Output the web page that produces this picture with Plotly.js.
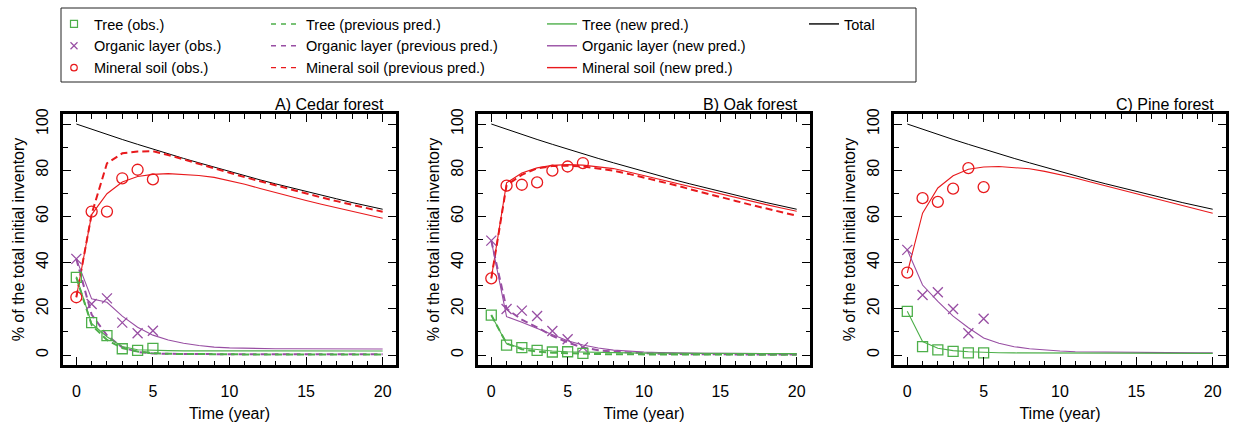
<!DOCTYPE html>
<html>
<head>
<meta charset="utf-8">
<script src="https://cdn.plot.ly/plotly-3.0.1.min.js"></script>
<style>
html, body { margin: 0; padding: 0; background: #ffffff; }
#chart { width: 1233px; height: 424px; }
</style>
</head>
<body>
<div id="chart"></div>
<script>
// ---------- data ----------
const years = [0,1,2,3,4,5,6,7,8,9,10,11,12,13,14,15,16,17,18,19,20];
const obsYearsA = [0,1,2,3,4,5];
const obsYearsB = [0,1,2,3,4,5,6];
const obsYearsC = [0,1,2,3,4,5];

const totalInv = [100,97.7,95.5,93.3,91.2,89.1,87.1,85.1,83.2,81.3,79.4,77.6,75.8,74.1,72.4,70.7,69.1,67.6,66.0,64.5,63.1];

// A) Cedar forest
const treeObsA = [33.6,14.0,8.4,2.7,2.0,2.9];
const orgObsA  = [41.6,22.1,24.5,14.0,9.4,10.5];
const minObsA  = [25.0,62.1,62.1,76.5,80.2,76.0];
const treePrevA = [33.6,13.0,6.5,3.0,1.5,0.8,0.5,0.4,0.3,0.3,0.2,0.2,0.2,0.2,0.2,0.2,0.2,0.2,0.2,0.2,0.2];
const orgPrevA  = [41.6,17.5,8.5,3.3,1.3,0.7,0.5,0.4,0.4,0.3,0.3,0.3,0.3,0.3,0.3,0.3,0.3,0.3,0.3,0.3,0.3];
const minPrevA  = [25.0,61.0,83.0,87.3,88.1,88.2,86.6,84.6,82.7,80.8,78.9,77.0,75.2,73.4,71.6,69.9,68.2,66.6,65.0,63.5,62.0];
const treeNewA = [33.9,13.7,7.9,3.7,2.3,2.0,1.9,1.8,1.8,1.8,1.7,1.7,1.7,1.7,1.7,1.7,1.7,1.7,1.7,1.7,1.7];
const orgNewA  = [41.6,24.3,22.8,16.8,12.0,8.6,6.5,5.1,4.1,3.4,3.1,2.9,2.8,2.7,2.7,2.7,2.7,2.6,2.6,2.6,2.6];
const minNewA  = [25.0,60.8,69.8,74.9,77.3,78.2,78.5,78.2,77.7,76.9,75.5,73.9,72.1,70.3,68.6,66.9,65.3,63.8,62.2,60.7,59.2];

// B) Oak forest
const treeObsB = [17.3,4.3,3.2,2.0,1.3,1.4,0.7];
const orgObsB  = [49.5,19.9,19.2,16.9,10.4,6.8,3.3];
const minObsB  = [33.2,73.3,73.7,74.7,79.8,81.6,83.1];
const treePrevB = [17.3,5.0,2.5,1.5,1.0,0.7,0.5,0.4,0.3,0.3,0.2,0.2,0.2,0.1,0.1,0.1,0.1,0.1,0.1,0.1,0.1];
const orgPrevB  = [49.5,20.0,15.3,12.0,8.3,5.4,3.2,2.1,1.4,1.0,0.7,0.5,0.4,0.3,0.3,0.3,0.2,0.2,0.2,0.2,0.2];
const minPrevB  = [33.2,73.5,78.0,80.8,81.8,82.0,81.6,80.8,79.8,78.4,76.9,75.3,73.6,71.8,70.0,68.3,66.7,65.0,63.4,61.8,60.3];
const treeNewB = [17.3,4.9,3.0,2.2,1.7,1.4,1.2,1.1,1.0,0.9,0.8,0.8,0.7,0.7,0.7,0.6,0.6,0.6,0.6,0.6,0.6];
const orgNewB  = [49.5,16.6,14.2,11.6,8.8,6.2,4.3,3.0,2.1,1.6,1.3,1.1,0.9,0.8,0.7,0.7,0.6,0.6,0.6,0.5,0.5];
const minNewB  = [33.2,74.5,78.8,81.0,82.1,82.4,82.2,81.6,80.7,79.2,77.6,76.1,74.6,73.1,71.5,69.8,68.2,66.7,65.1,63.6,62.2];

// C) Pine forest
const treeObsC = [18.9,3.6,2.2,1.6,0.9,0.9];
const orgObsC  = [45.5,26.0,27.2,19.9,9.4,15.7];
const minObsC  = [35.7,67.9,66.3,72.0,80.9,72.7];
const treeNewC = [18.9,5.8,2.9,1.9,1.4,1.1,1.0,0.9,0.9,0.8,0.8,0.8,0.8,0.8,0.7,0.7,0.7,0.7,0.7,0.7,0.7];
const orgNewC  = [45.5,30.3,23.2,16.8,11.8,7.4,5.1,3.6,2.7,2.1,1.7,1.4,1.3,1.2,1.1,1.0,1.0,1.0,0.9,0.9,0.9];
const minNewC  = [35.5,61.4,72.3,77.6,80.4,81.4,81.6,81.2,80.6,79.5,78.2,76.6,74.9,73.2,71.5,69.8,68.1,66.5,64.8,63.1,61.4];

const panelTitles = ['A) Cedar forest','B) Oak forest','C) Pine forest'];
const legendNames = {
  treeObs: 'Tree (obs.)', orgObs: 'Organic layer (obs.)', minObs: 'Mineral soil (obs.)',
  treePrev: 'Tree (previous pred.)', orgPrev: 'Organic layer (previous pred.)', minPrev: 'Mineral soil (previous pred.)',
  treeNew: 'Tree (new pred.)', orgNew: 'Organic layer (new pred.)', minNew: 'Mineral soil (new pred.)',
  total: 'Total'
};

// ---------- styles ----------
const GREEN = '#4daf4a', PURPLE = '#984ea3', RED = '#e8191c', BLACK = '#000000';
const FONT = 'Liberation Sans, Arial, Helvetica, sans-serif';
const DASH = '7px,4px';

const W = 1233, H = 424;
const px = (a, b) => [a / W, b / W];
const xDomains = [px(63, 396), px(478, 810), px(894, 1226)];
const yDomain = [(H - 365) / H, (H - 114) / H];

const traces = [];
function add(panel, x, y, opts) {
  const ax = panel === 0 ? '' : String(panel + 1);
  traces.push(Object.assign({ x: x, y: y, xaxis: 'x' + ax, yaxis: 'y' + ax, hoverinfo: 'skip', showlegend: false }, opts));
}
function lineTrace(panel, y, color, dash, width) {
  add(panel, years, y, { type: 'scatter', mode: 'lines', line: { color: color, width: width, dash: dash } });
}
function obsTrace(panel, x, y, color, symbol, size) {
  add(panel, x, y, { type: 'scatter', mode: 'markers',
    marker: { color: color, symbol: symbol, size: size, line: { color: color, width: 1.3 } } });
}

const panels = [
  { obsX: obsYearsA, tO: treeObsA, oO: orgObsA, mO: minObsA, tP: treePrevA, oP: orgPrevA, mP: minPrevA, tN: treeNewA, oN: orgNewA, mN: minNewA },
  { obsX: obsYearsB, tO: treeObsB, oO: orgObsB, mO: minObsB, tP: treePrevB, oP: orgPrevB, mP: minPrevB, tN: treeNewB, oN: orgNewB, mN: minNewB },
  { obsX: obsYearsC, tO: treeObsC, oO: orgObsC, mO: minObsC, tP: null, oP: null, mP: null, tN: treeNewC, oN: orgNewC, mN: minNewC }
];

panels.forEach((p, i) => {
  lineTrace(i, totalInv, BLACK, 'solid', 1);
  if (p.mP) lineTrace(i, p.mP, RED, DASH, 2);
  if (p.oP) lineTrace(i, p.oP, PURPLE, DASH, 2);
  if (p.tP) lineTrace(i, p.tP, GREEN, DASH, 2);
  lineTrace(i, p.mN, RED, 'solid', 1.1);
  lineTrace(i, p.oN, PURPLE, 'solid', 1.1);
  lineTrace(i, p.tN, GREEN, 'solid', 1.1);
  obsTrace(i, p.obsX, p.mO, RED, 'circle-open', 11);
  obsTrace(i, p.obsX, p.oO, PURPLE, 'x-thin-open', 10);
  obsTrace(i, p.obsX, p.tO, GREEN, 'square-open', 10);
});

// legend-only entries (no data points), four columns
function legendEntry(key, legend, style) {
  traces.push(Object.assign({ type: 'scatter', x: [null], y: [null], xaxis: 'x', yaxis: 'y',
    name: legendNames[key], legend: legend, showlegend: true, hoverinfo: 'skip' }, style));
}
const mk = (c, s, size) => ({ mode: 'markers', marker: { color: c, symbol: s, size: size, line: { color: c, width: 1.2 } } });
const ln = (c, d) => ({ mode: 'lines', line: { color: c, width: 1.4, dash: d } });
legendEntry('treeObs', 'legend', mk(GREEN, 'square-open', 7));
legendEntry('orgObs', 'legend', mk(PURPLE, 'x-thin-open', 7));
legendEntry('minObs', 'legend', mk(RED, 'circle-open', 6.5));
legendEntry('treePrev', 'legend2', ln(GREEN, '5px,5px'));
legendEntry('orgPrev', 'legend2', ln(PURPLE, '5px,5px'));
legendEntry('minPrev', 'legend2', ln(RED, '5px,5px'));
legendEntry('treeNew', 'legend3', ln(GREEN, 'solid'));
legendEntry('orgNew', 'legend3', ln(PURPLE, 'solid'));
legendEntry('minNew', 'legend3', ln(RED, 'solid'));
legendEntry('total', 'legend4', ln(BLACK, 'solid'));

const layout = {
  width: W, height: H,
  margin: { l: 0, r: 0, t: 0, b: 0 },
  paper_bgcolor: '#ffffff', plot_bgcolor: '#ffffff',
  font: { family: FONT, size: 16, color: '#000000' },
  annotations: [], shapes: []
};

function axisCommon() {
  return {
    showline: true, linecolor: '#000000', linewidth: 2.6, mirror: 'allticks',
    ticks: 'inside', ticklen: 8, tickwidth: 1, tickcolor: '#000000',
    showgrid: false, zeroline: false, fixedrange: true,
    tickfont: { family: FONT, size: 16, color: '#000000' }
  };
}

for (let i = 0; i < 3; i++) {
  const ax = i === 0 ? '' : String(i + 1);
  layout['xaxis' + ax] = Object.assign(axisCommon(), {
    domain: xDomains[i], anchor: 'y' + ax, range: [-0.87, 20.87],
    tick0: 0, dtick: 5, ticklabelstandoff: 10,
    minor: { dtick: 1, ticks: 'inside', ticklen: 4.5, tickwidth: 1, tickcolor: '#000000', showgrid: false },
    title: { text: 'Time (year)', font: { family: FONT, size: 16 }, standoff: 9 }
  });
  layout['yaxis' + ax] = Object.assign(axisCommon(), {
    domain: yDomain, anchor: 'x' + ax, range: [-4.33, 104.33],
    tick0: 0, dtick: 20, tickangle: -90, ticklabelstandoff: 6,
    minor: { dtick: 10, ticks: 'inside', ticklen: 4.5, tickwidth: 1, tickcolor: '#000000', showgrid: false },
    title: { text: '% of the total initial inventory', font: { family: FONT, size: 16 }, standoff: 6 }
  });
  layout.annotations.push({
    text: panelTitles[i], xref: 'x' + ax + ' domain', yref: 'y' + ax + ' domain',
    x: 0.97, y: 1.0, xanchor: 'right', yanchor: 'bottom', yshift: -1, showarrow: false,
    font: { family: FONT, size: 16, color: '#000000' }
  });
}

const legendBase = {
  orientation: 'v', xanchor: 'left', yanchor: 'top', bgcolor: 'rgba(0,0,0,0)', borderwidth: 0,
  font: { family: FONT, size: 14.5, color: '#000000' }, traceorder: 'normal', itemclick: false, itemdoubleclick: false
};
const legendTop = (H - 8) / H;
layout.legend  = Object.assign({}, legendBase, { x: 54 / W, y: legendTop });
layout.legend2 = Object.assign({}, legendBase, { x: 266 / W, y: legendTop });
layout.legend3 = Object.assign({}, legendBase, { x: 542 / W, y: legendTop });
layout.legend4 = Object.assign({}, legendBase, { x: 804 / W, y: legendTop });

layout.shapes.push({
  type: 'rect', xref: 'paper', yref: 'paper',
  x0: 61 / W, x1: 916 / W, y0: (H - 82) / H, y1: (H - 8) / H,
  line: { color: '#222222', width: 1 }, fillcolor: 'rgba(0,0,0,0)'
});

Plotly.newPlot('chart', traces, layout, { displayModeBar: false, staticPlot: true });
</script>
</body>
</html>
